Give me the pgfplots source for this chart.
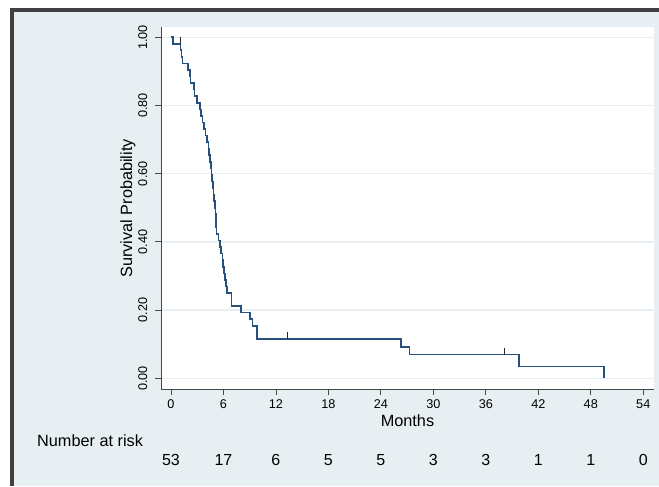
\documentclass[border=0pt]{standalone}
\usepackage{pgfplots}
\pgfplotsset{compat=1.18}
\usepackage{fontspec}
\setmainfont{Liberation Sans}
\definecolor{bgc}{RGB}{232,239,242}
\definecolor{framec}{RGB}{62,64,66}
\definecolor{axc}{RGB}{70,72,74}
\definecolor{kmc}{RGB}{40,80,126}
\definecolor{gridc}{RGB}{232,238,241}
\pgfdeclareplotmark{uptick}{\pgfpathmoveto{\pgfpointorigin}\pgfpathlineto{\pgfpoint{0pt}{4.9pt}}\pgfusepathqstroke}
\begin{document}
\begin{tikzpicture}
\begin{scope}[x=0.75pt,y=0.75pt]
\fill[white] (0,0) rectangle (659,486);
\fill[bgc] (14,0) rectangle (659,474.3);
\fill[framec] (10,0) rectangle (14,478);
\fill[framec] (10,474.3) rectangle (659,478);
\end{scope}
\begin{axis}[
  at={(120.75pt,72.525pt)}, anchor=south west,
  width=369.75pt, height=271.5pt, scale only axis,
  xmin=-1.1435, xmax=55.23, ymin=-0.03226, ymax=1.0293,
  axis x line*=bottom, axis y line*=left,
  axis line style={axc, line width=0.6pt},
  axis background/.style={fill=white},
  xtick={0,6,...,54}, ytick={0,0.2,0.4,0.6,0.8,1},
  ymajorgrids, major grid style={gridc, line width=1pt},
  tick align=outside, major tick length=4.3pt,
  tick style={axc, line width=0.6pt},
  /pgf/number format/assume math mode=true,
  tick label style={font=\fontsize{9.5}{10}\selectfont},
  yticklabel shift=2.5pt,
  yticklabel style={rotate=90, anchor=south, /pgf/number format/.cd, fixed, fixed zerofill, precision=2},
  clip=false,
  xlabel={Months}, ylabel={Survival Probability},
  label style={font=\fontsize{12.2}{14}\selectfont},
  xlabel style={at={(axis description cs:0.5,-0.1022)}, anchor=base},
  ylabel style={at={(axis description cs:-0.0588,0.5)}, anchor=base},
]
\addplot[kmc, line width=1.2pt, const plot, mark=none] coordinates {
(0,1) (0.25,0.98113) (1.1,0.96189) (1.2,0.94266) (1.3,0.92342) (1.93,0.90418)
(2.17,0.88494) (2.25,0.86571) (2.63,0.84647) (2.67,0.82723) (3.0,0.80799)
(3.3,0.78875) (3.45,0.76952) (3.6,0.75028) (3.77,0.73104) (3.95,0.71180)
(4.1,0.69256) (4.27,0.67333) (4.37,0.65409) (4.45,0.63485) (4.54,0.61561)
(4.65,0.59637) (4.72,0.57714) (4.8,0.55790) (4.86,0.53866) (4.93,0.51942)
(5.0,0.50018) (5.07,0.48095) (5.12,0.46171) (5.17,0.44247) (5.22,0.42323)
(5.45,0.40400) (5.6,0.38476) (5.75,0.36552) (5.88,0.34628) (5.95,0.32704)
(6.05,0.30780) (6.17,0.28857) (6.3,0.26933) (6.4,0.25009) (6.94,0.21162)
(7.97,0.19238) (9.03,0.17314) (9.3,0.15390) (9.8,0.11543)
(26.3,0.09234) (27.25,0.06926) (39.8,0.03463) (49.5,0)
};
\addplot[draw=black!85, only marks, mark=uptick, mark options={solid, line width=0.55pt}] coordinates {
(1.03,0.98113) (13.26,0.11543) (38.1,0.06926)
};
\node[anchor=base east, font=\fontsize{12.2}{14}\selectfont] at (axis cs:-2.67,-0.2006) {Number at risk};
\node[anchor=base, font=\fontsize{12}{14}\selectfont] at (axis cs:0,-0.2543) {53};
\node[anchor=base, font=\fontsize{12}{14}\selectfont] at (axis cs:6,-0.2543) {17};
\node[anchor=base, font=\fontsize{12}{14}\selectfont] at (axis cs:12,-0.2543) {6};
\node[anchor=base, font=\fontsize{12}{14}\selectfont] at (axis cs:18,-0.2543) {5};
\node[anchor=base, font=\fontsize{12}{14}\selectfont] at (axis cs:24,-0.2543) {5};
\node[anchor=base, font=\fontsize{12}{14}\selectfont] at (axis cs:30,-0.2543) {3};
\node[anchor=base, font=\fontsize{12}{14}\selectfont] at (axis cs:36,-0.2543) {3};
\node[anchor=base, font=\fontsize{12}{14}\selectfont] at (axis cs:42,-0.2543) {1};
\node[anchor=base, font=\fontsize{12}{14}\selectfont] at (axis cs:48,-0.2543) {1};
\node[anchor=base, font=\fontsize{12}{14}\selectfont] at (axis cs:54,-0.2543) {0};
\end{axis}
\pgfresetboundingbox
\path[use as bounding box] (0,0) rectangle (494.25pt,364.5pt);
\end{tikzpicture}
\end{document}
